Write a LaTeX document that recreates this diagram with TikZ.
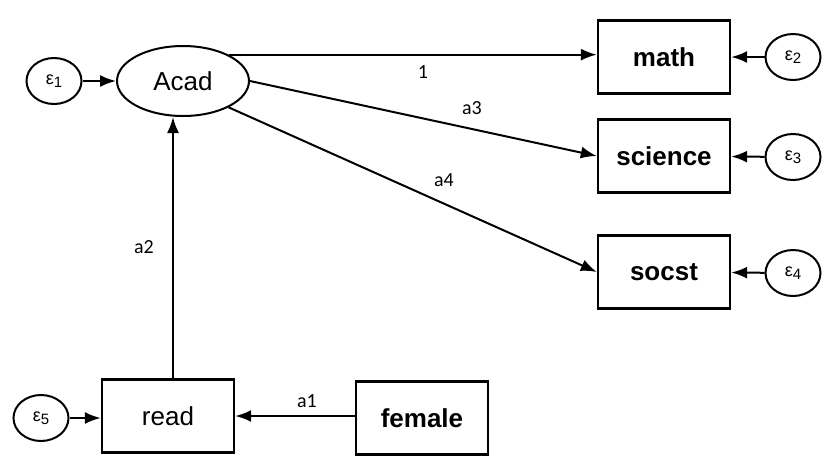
\documentclass[tikz,border=0pt]{standalone}
\usepackage{fontspec}
\setmainfont{Liberation Sans}
\newfontfamily\lblfont{Carlito}
\usetikzlibrary{arrows.meta,shapes.geometric}
\newcommand{\errlabel}[1]{{\fontsize{9}{9}\selectfont ε\raisebox{-0.3ex}{\fontsize{7.5}{7.5}\selectfont #1}}}
\tikzset{
  obs/.style={draw, line width=1.2pt, minimum width=132pt/2, minimum height=73pt/2,
    inner sep=0pt, font=\fontsize{13}{13}\selectfont\bfseries},
  latent/.style={draw, ellipse, line width=1pt, minimum width=66pt, minimum height=35pt,
    inner sep=0pt, font=\fontsize{13}{13}\selectfont},
  err/.style={draw, ellipse, line width=1pt, minimum width=27.5pt, minimum height=23pt, inner sep=0pt},
  arr/.style={line width=1pt, -{Latex[length=8pt,width=6pt]}},
  lbl/.style={font=\lblfont\fontsize{10}{10}\selectfont, inner sep=0pt}
}
\begin{document}
\begin{tikzpicture}[x=0.5pt, y=-0.5pt]
  \useasboundingbox (0,0) rectangle (837,472);
  % latent variable and its error
  \node[latent] (acad) at (183,81) {Acad};
  \node[err] (e1) at (54,81) {\errlabel{1}};
  % indicators
  \node[obs] (math) at (664,57) {math};
  \node[obs] (science) at (664,156) {science};
  \node[obs] (socst) at (664,272) {socst};
  \node[err] (e2) at (793,57) {\errlabel{2}};
  \node[err] (e3) at (793,157) {\errlabel{3}};
  \node[err] (e4) at (793,273) {\errlabel{4}};
  % predictors
  \node[obs, font=\fontsize{13}{13}\selectfont] (read) at (168,416) {read};
  \node[obs] (female) at (422,418) {female};
  \node[err] (e5) at (41,418) {\errlabel{5}};
  % paths
  \draw[arr] (e1) -- (acad);
  \draw[arr] (acad.30) -- (acad.30 -| math.west);
  \draw[arr] (acad.east) -- (science.west);
  \draw[arr] (acad.-30) -- (socst.west);
  \draw[arr] (e2) -- (math);
  \draw[arr] (e3) -- (science);
  \draw[arr] (e4) -- (socst);
  \draw[arr] ([xshift=2.5pt]read.north) -- ([xshift=2.5pt]read.north |- acad.south);
  \draw[arr] (female.west |- read.east) -- (read.east);
  \draw[arr] (e5) -- (e5 -| read.west);
  % coefficients
  \node[lbl] (l1) at (423,72) {1};
  \node[lbl] (l3) at (472,108) {a3};
  \node[lbl] (l4) at (444,180) {a4};
  \node[lbl] (l2) at (144,247) {a2};
  \node[lbl] (la1) at (307,401) {a1};
\end{tikzpicture}
\end{document}
